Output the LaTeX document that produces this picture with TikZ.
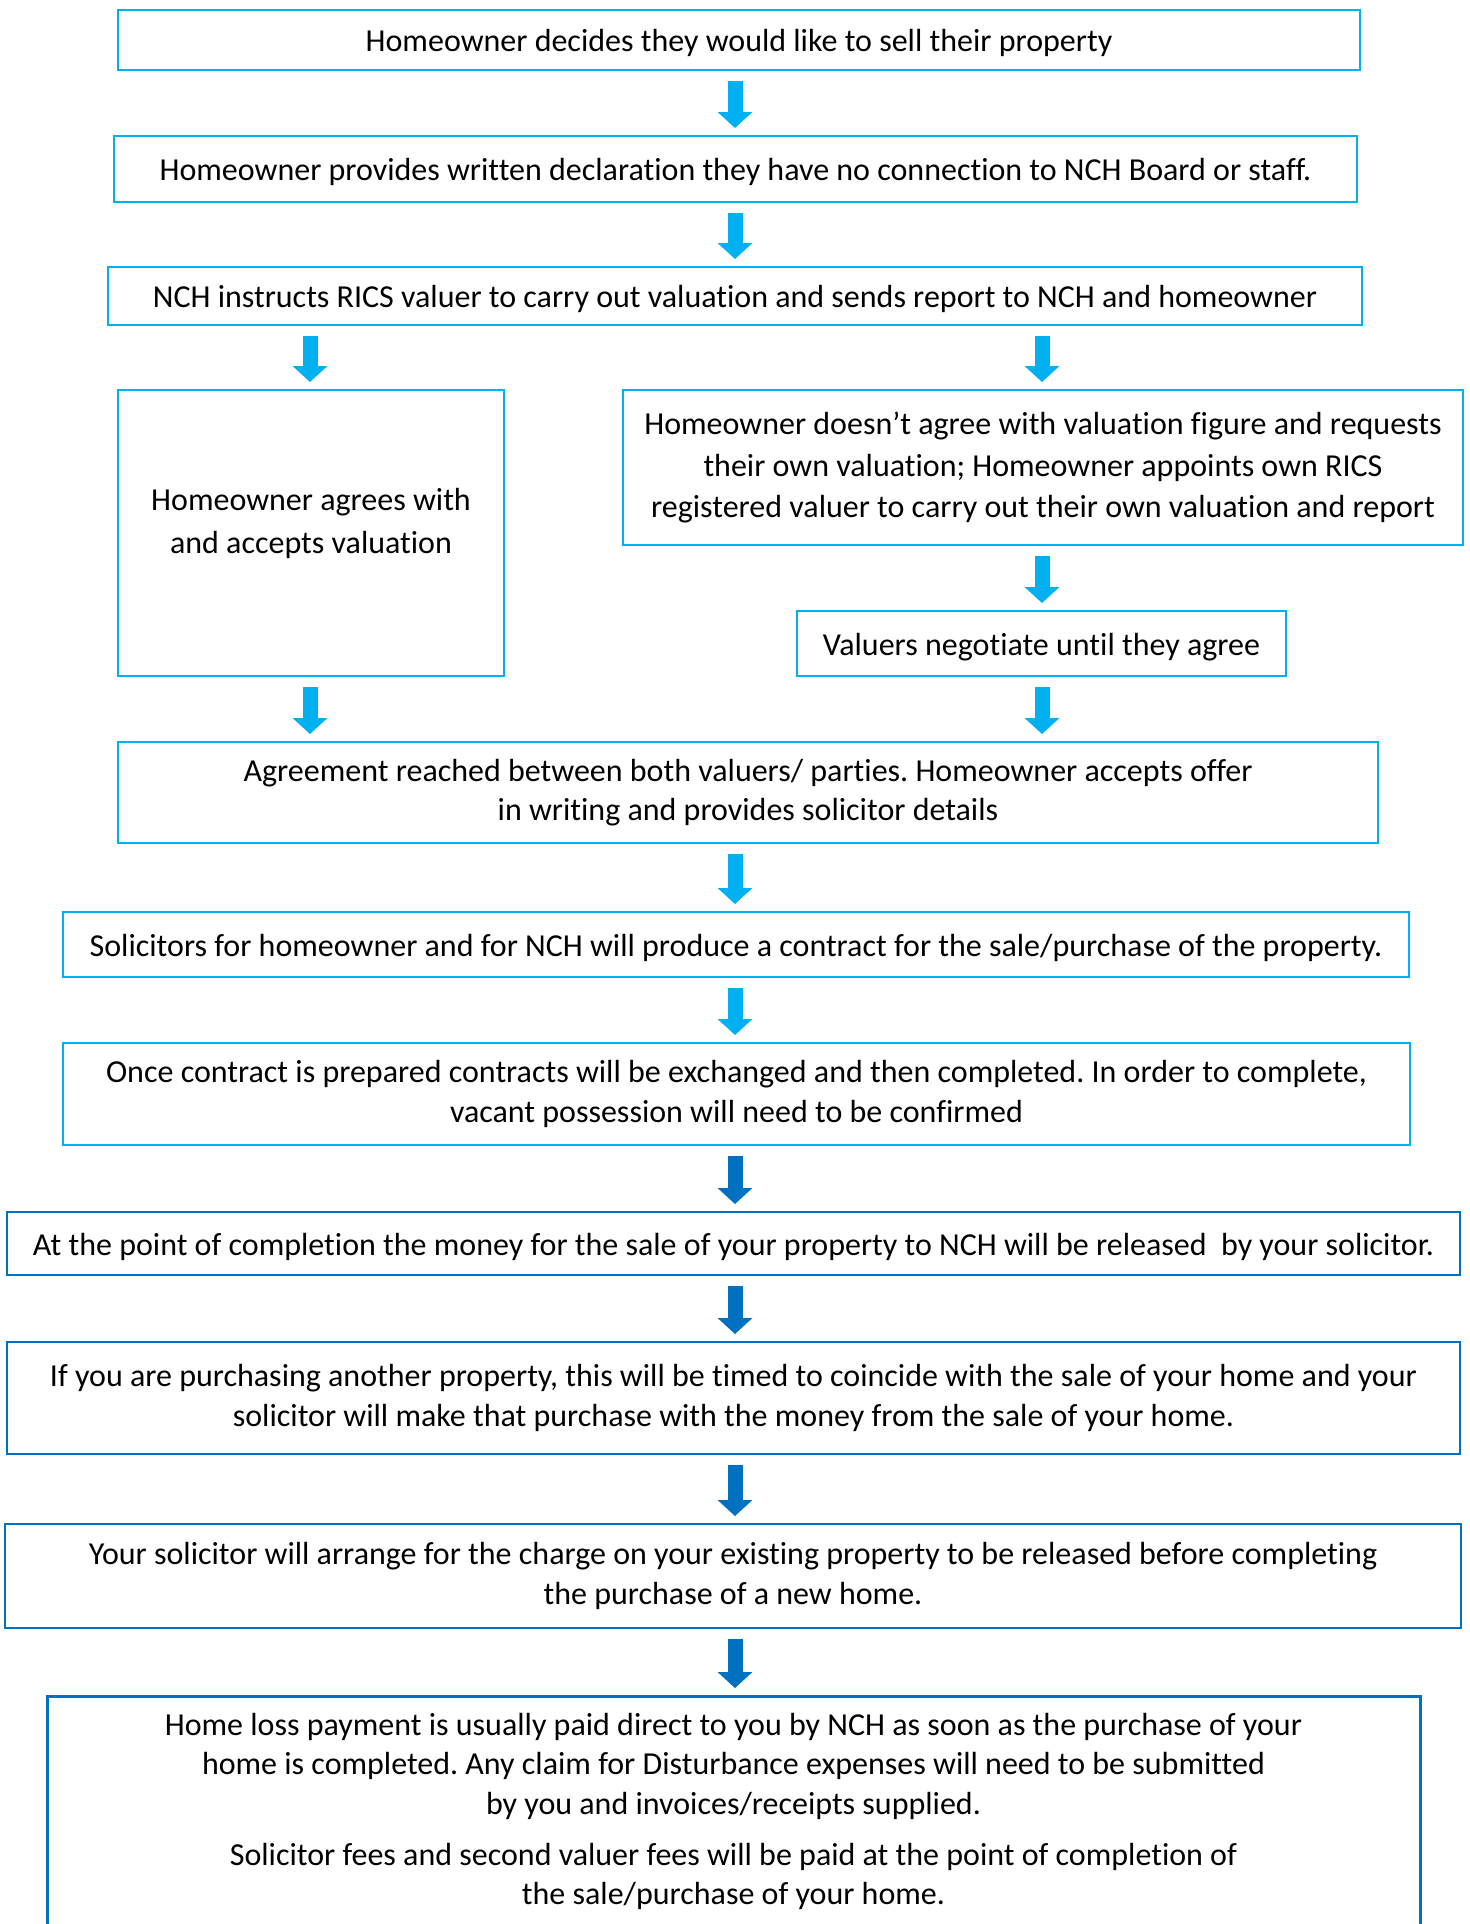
\documentclass[tikz,border=0pt]{standalone}
\usepackage{fontspec}
\setmainfont{Carlito}[Ligatures = NoCommon]
\usetikzlibrary{arrows.meta,positioning}
\definecolor{lightblue}{HTML}{00B0F0}
\definecolor{darkblue}{HTML}{0070C0}
\frenchspacing

\begin{document}
\begin{tikzpicture}[x = 0.5pt, y = -0.5pt,
  font = \fontsize{16pt}{19.6pt}\selectfont,
  lightbox/.style = {draw = lightblue, line width = 1pt, align = center, inner sep = 0pt, execute at begin node = \rule{0pt}{14.5pt}},
  darkbox/.style = {lightbox, draw = darkblue},
  lightarr/.style = {draw = lightblue, line width = 7.5pt, -{Triangle[width = 17pt, length = 8pt]}, shorten < = 5pt, shorten > = 3.5pt},
  darkarr/.style = {lightarr, draw = darkblue}]
\useasboundingbox (0,0) rectangle (1470,1924);
\clip (0,0) rectangle (1470,1924);
\coordinate (mid) at (735,0);
\coordinate (lft) at (310,0);
\coordinate (rgt) at (1042,0);
% steps
\node[lightbox, minimum width = 621pt, minimum height = 30pt] (decide) at (739,40) {Homeowner decides they would like to sell their property};
\node[lightbox, minimum width = 621.5pt, minimum height = 33pt] (declare) at (735.5,169) {Homeowner provides written declaration they have no connection to NCH Board or staff.};
\node[lightbox, minimum width = 627pt, minimum height = 29pt] (instruct) at (735,296) {NCH instructs RICS valuer to carry out valuation and sends report to NCH and homeowner};
\node[lightbox, minimum width = 193pt, minimum height = 143pt, font = \fontsize{16pt}{21.5pt}\selectfont] (agree) at (311,533) {Homeowner agrees with\\and accepts valuation\rule[-12pt]{0pt}{0pt}};
\node[lightbox, minimum width = 420pt, minimum height = 77.5pt, font = \fontsize{16pt}{20.9pt}\selectfont] (disagree) at (1043,467.5) {Homeowner doesn’t agree with valuation figure and requests\\their own valuation; Homeowner appoints own RICS\\registered valuer to carry out their own valuation and report};
\node[lightbox, minimum width = 244.5pt, minimum height = 32.5pt] (negotiate) at (1041.5,643.5) {Valuers negotiate until they agree};
\node[lightbox, minimum width = 630pt, minimum height = 50.5pt] (accept) at (748,792.5) {Agreement reached between both valuers/ parties. Homeowner accepts offer\\in writing and provides solicitor details};
\node[lightbox, minimum width = 673pt, minimum height = 32.5pt] (contract) at (736,944.5) {Solicitors for homeowner and for NCH will produce a contract for the sale/purchase of the property.};
\node[lightbox, minimum width = 673.5pt, minimum height = 51pt] (exchange) at (736.5,1094) {Once contract is prepared contracts will be exchanged and then completed. In order to complete,\\vacant possession will need to be confirmed};
\node[darkbox, minimum width = 726.5pt, minimum height = 31.5pt] (release) at (733.5,1243.5) {At the point of completion the money for the sale of your property to NCH will be released~ by your solicitor.};
\node[darkbox, minimum width = 726.5pt, minimum height = 56pt] (purchase) at (733.5,1398) {If you are purchasing another property, this will be timed to coincide with the sale of your home and your\\solicitor will make that purchase with the money from the sale of your home.};
\node[darkbox, minimum width = 728pt, minimum height = 52pt] (charge) at (733,1576) {Your solicitor will arrange for the charge on your existing property to be released before completing\\the purchase of a new home.};
\node[darkbox, line width = 1.5pt, minimum width = 686.5pt, minimum height = 150pt, anchor = north] (payframe) at (733.5,1695) {};
\node[align = center, inner sep = 0pt, anchor = north] (payment) at (733.5,1713) {Home loss payment is usually paid direct to you by NCH as soon as the purchase of your\\home is completed. Any claim for Disturbance expenses will need to be submitted\\by you and invoices/receipts supplied.\\[6pt]Solicitor fees and second valuer fees will be paid at the point of completion of\\the sale/purchase of your home.};
% arrows
\draw[lightarr] (decide.south -| mid) -- (declare.north -| mid);
\draw[lightarr] (declare.south -| mid) -- (instruct.north -| mid);
\draw[lightarr] (instruct.south -| lft) -- (agree.north -| lft);
\draw[lightarr] (instruct.south -| rgt) -- (disagree.north -| rgt);
\draw[lightarr] (disagree.south -| rgt) -- (negotiate.north -| rgt);
\draw[lightarr] (agree.south -| lft) -- (accept.north -| lft);
\draw[lightarr] (negotiate.south -| rgt) -- (accept.north -| rgt);
\draw[lightarr] (accept.south -| mid) -- (contract.north -| mid);
\draw[lightarr] (contract.south -| mid) -- (exchange.north -| mid);
\draw[darkarr] (exchange.south -| mid) -- (release.north -| mid);
\draw[darkarr] (release.south -| mid) -- (purchase.north -| mid);
\draw[darkarr] (purchase.south -| mid) -- (charge.north -| mid);
\draw[darkarr] (charge.south -| mid) -- (payframe.north -| mid);
\end{tikzpicture}
\end{document}
